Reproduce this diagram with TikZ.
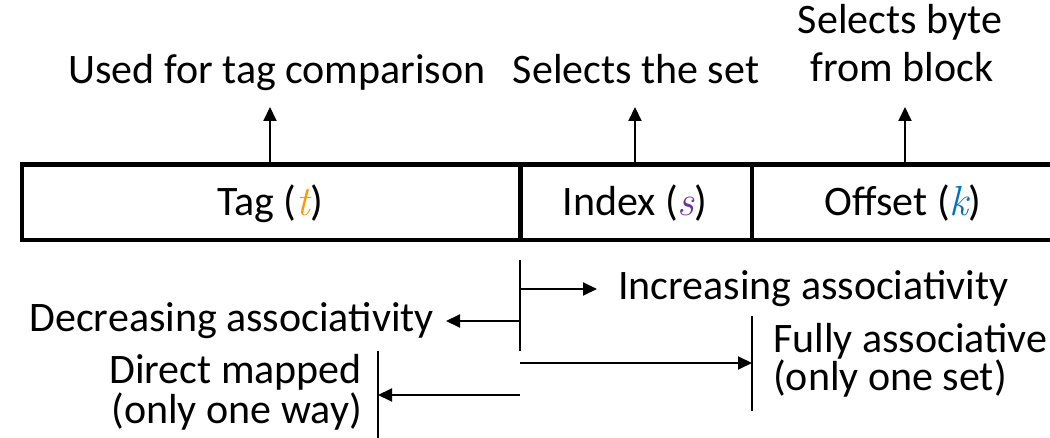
\documentclass[tikz,border=0pt]{standalone}
\usepackage{fontspec}
\setmainfont{Carlito}
\newfontfamily\varfont{Latin Modern Roman}
\usetikzlibrary{arrows.meta}
\definecolor{tagorange}{RGB}{255,153,0}
\definecolor{idxpurple}{RGB}{112,48,160}
\definecolor{offblue}{RGB}{0,112,192}
\newcommand{\fieldvar}[2]{\textcolor{#1}{\varfont\itshape #2}}
\tikzset{
  field/.style={draw, line width=4.5pt, inner sep=0pt, minimum height=75.5pt},
  lbl/.style={inner sep=0pt, font=\fontsize{42}{50}\selectfont},
  arr/.style={line width=2pt, -{Triangle[length=14pt,width=13pt]}},
  bar/.style={line width=2.2pt}
}
\begin{document}
\begin{tikzpicture}[x=1pt,y=-1pt]
\useasboundingbox (0,0) rectangle (1050,438);
\clip (0,0) rectangle (1050,438);
% address fields
\node[field, minimum width=498.5pt] (tag) at (271.25,202.25) {};
\node[field, minimum width=231.5pt] (index) at (636.25,202.25) {};
\node[field, minimum width=302pt] (offset) at (903,202.25) {};
\node[lbl, anchor=base] (tagtxt) at (270,216) {Tag (\fieldvar{tagorange}{t})};
\node[lbl, anchor=base] (idxtxt) at (635,216) {Index (\fieldvar{idxpurple}{s})};
\node[lbl, anchor=base] (offtxt) at (903,216) {Offset (\fieldvar{offblue}{k})};
% labels above
\node[lbl, anchor=base] (used) at (277,84) {Used for tag comparison};
\node[lbl, anchor=base] (selset) at (636,84) {Selects the set};
\node[lbl, anchor=base] (selbyte1) at (900,34) {Selects byte};
\node[lbl, anchor=base] (selbyte2) at (902,82) {from block};
\coordinate (tagtip) at (270,107);
\coordinate (idxtip) at (635,107);
\coordinate (offtip) at (905,107);
\draw[arr] (tagtip |- tag.north) -- (tagtip);
\draw[arr] (idxtip |- index.north) -- (idxtip);
\draw[arr] (offtip |- offset.north) -- (offtip);
% associativity
\coordinate (v1a) at (520,260);
\coordinate (v1b) at (520,351);
\draw[bar] (v1a) -- (v1b);
\coordinate (incS) at (520,289);
\coordinate (incE) at (597,289);
\draw[arr] (incS) -- (incE);
\node[lbl, anchor=base west] (inc) at (618,300) {Increasing associativity};
\coordinate (decS) at (520,321);
\coordinate (decE) at (446,321);
\draw[arr] (decS) -- (decE);
\node[lbl, anchor=base east] (dec) at (434,332) {Decreasing associativity};
\coordinate (v2a) at (752,316);
\coordinate (v2b) at (752,411);
\draw[bar] (v2a) -- (v2b);
\coordinate (faS) at (520,363);
\draw[arr] (faS) -- (faS -| v2a);
\node[lbl, anchor=base west] (fa1) at (773,353) {Fully associative};
\node[lbl, anchor=base west] (fa2) at (773,391) {(only one set)};
\coordinate (v3a) at (378,351);
\coordinate (v3b) at (378,445);
\draw[bar] (v3a) -- (v3b);
\coordinate (dmS) at (520,395);
\draw[arr] (dmS) -- (dmS -| v3a);
\node[lbl, anchor=base east] (dm1) at (362,384) {Direct mapped};
\node[lbl, anchor=base east] (dm2) at (362,423) {(only one way)};
\end{tikzpicture}
\end{document}
